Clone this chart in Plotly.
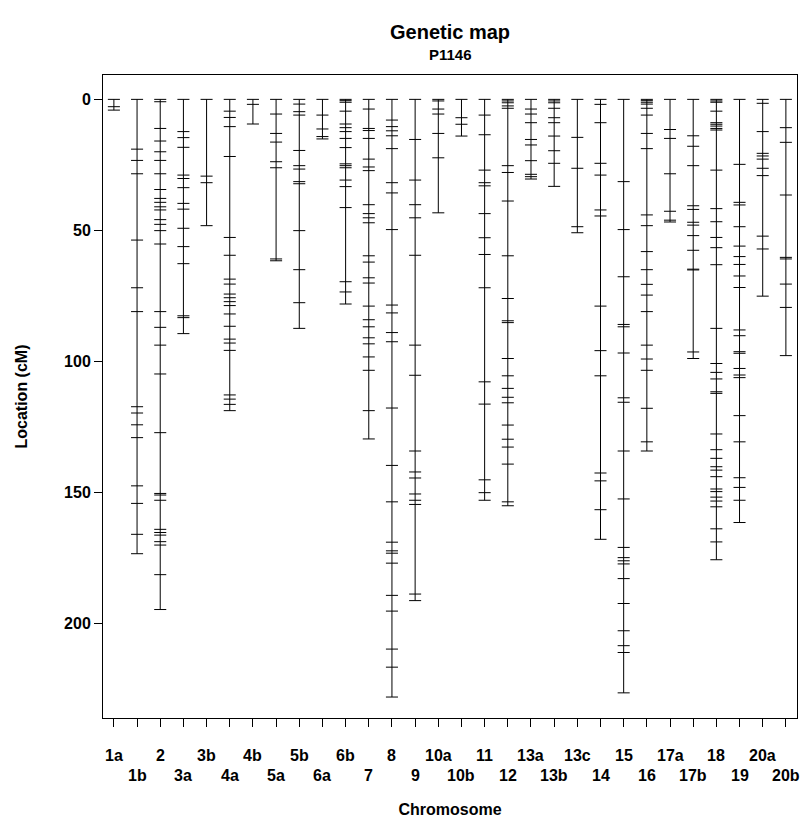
import plotly.graph_objects as go

chromosomes = ["1a","1b","2","3a","3b","4a","4b","5a","5b","6a","6b","7","8","9","10a","10b",
               "11","12","13a","13b","13c","14","15","16","17a","17b","18","19","20a","20b"]

markers = {
    "1a": [0, 2.8, 4.1],
    "1b": [0, 19.0, 23.3, 28.4, 53.7, 71.9, 81.0, 117.3, 119.7, 124.2, 129.1, 147.5, 154.2, 166.0, 173.4],
    "2": [0, 0.9, 11.1, 15.9, 20.0, 23.3, 28.4, 34.4, 37.8, 39.3, 41.0, 42.2, 45.9, 47.7, 50.1, 55.2,
          81.0, 87.0, 93.8, 104.8, 127.2, 150.4, 151.0, 153.0, 164.1, 165.3, 166.3, 168.8, 170.1, 181.4, 194.7],
    "3a": [0, 12.3, 14.6, 18.3, 28.9, 30.2, 33.7, 39.7, 41.9, 49.2, 56.2, 62.7, 82.6, 83.3, 89.4],
    "3b": [0, 29.3, 31.8, 48.2],
    "4a": [0, 4.5, 6.9, 10.4, 21.8, 52.7, 59.5, 68.6, 70.5, 74.3, 75.7, 77.2, 78.7, 81.9, 86.6, 91.5,
           93.0, 95.8, 112.8, 114.4, 116.4, 118.8],
    "4b": [0, 1.9, 9.4],
    "5a": [0, 5.6, 13.0, 16.3, 23.8, 26.1, 60.9, 61.6],
    "5b": [0, 1.8, 4.7, 6.0, 19.5, 25.3, 26.6, 31.4, 32.2, 50.1, 65.0, 77.6, 87.4],
    "6a": [0, 6.0, 11.3, 14.2, 15.1],
    "6b": [0, 0.5, 1.1, 4.5, 9.4, 10.8, 12.3, 14.9, 18.4, 24.6, 25.3, 26.1, 30.8, 33.3, 41.3, 69.6, 73.5, 78.1],
    "7": [0, 3.7, 11.1, 11.9, 14.9, 22.8, 25.8, 27.2, 40.2, 43.6, 45.2, 47.1, 59.7, 62.1, 68.1, 70.1,
          78.9, 84.1, 86.8, 91.0, 93.3, 98.3, 103.4, 118.8, 129.6],
    "8": [0, 7.9, 10.4, 12.0, 13.9, 18.8, 31.8, 35.7, 49.7, 78.5, 81.5, 89.0, 92.5, 117.8, 139.7, 153.6,
          169.0, 172.3, 173.2, 177.0, 189.3, 195.3, 209.8, 216.7, 228.1],
    "9": [0, 15.3, 30.8, 40.2, 45.2, 59.5, 93.8, 105.3, 134.2, 142.2, 144.5, 150.6, 153.0, 154.6, 188.8, 191.3],
    "10a": [0, 0.6, 3.7, 5.6, 13.0, 22.3, 43.3],
    "10b": [0, 7.0, 9.5, 14.0],
    "11": [0, 6.0, 13.5, 27.0, 31.8, 33.0, 43.6, 52.8, 59.2, 71.9, 107.8, 116.3, 145.2, 150.1, 153.0],
    "12": [0, 0.6, 1.3, 2.5, 3.4, 25.3, 27.9, 38.8, 59.7, 76.0, 84.5, 85.2, 98.9, 105.5, 110.3, 113.7,
           115.8, 124.3, 129.7, 132.7, 139.2, 153.6, 155.1],
    "13a": [0, 3.7, 5.6, 8.9, 15.3, 17.4, 23.4, 28.6, 29.5, 30.4],
    "13b": [0, 0.6, 1.3, 3.4, 7.0, 8.9, 14.0, 19.6, 24.4, 33.2],
    "13c": [0, 14.5, 26.3, 48.6, 50.9],
    "14": [0, 1.9, 8.9, 24.4, 28.9, 42.2, 44.5, 78.9, 95.9, 105.5, 142.6, 145.6, 156.6, 167.9],
    "15": [0, 31.4, 49.7, 67.7, 85.9, 86.8, 96.8, 113.9, 115.6, 134.2, 152.5, 171.0, 174.9, 176.1, 177.3,
           182.9, 192.4, 202.8, 208.5, 211.1, 226.5],
    "16": [0, 0.5, 1.1, 1.8, 3.4, 6.0, 13.0, 18.8, 44.1, 48.2, 58.1, 65.0, 70.6, 74.7, 81.0, 93.8, 99.1,
           103.4, 117.9, 130.7, 134.2],
    "17a": [0, 11.5, 14.9, 28.4, 42.7, 46.1, 46.8],
    "17b": [0, 13.9, 17.9, 25.3, 40.6, 42.0, 46.9, 48.0, 52.0, 57.6, 64.8, 65.1, 96.4, 98.9],
    "18": [0, 0.6, 1.1, 4.5, 8.9, 9.5, 10.2, 11.1, 11.7, 27.0, 41.7, 46.7, 52.7, 56.6, 63.1, 87.4, 100.8,
           104.2, 106.7, 111.6, 112.2, 127.7, 133.7, 137.0, 140.2, 141.5, 144.0, 148.7, 149.7, 151.8,
           153.3, 155.5, 163.9, 168.9, 175.7],
    "19": [0, 24.8, 39.3, 40.3, 48.6, 56.0, 60.0, 63.0, 67.4, 71.8, 88.0, 90.2, 96.3, 96.9, 102.7, 105.2,
           106.2, 120.7, 130.7, 144.4, 148.1, 153.0, 161.5],
    "20a": [0, 1.5, 12.3, 20.6, 21.6, 22.8, 26.3, 29.1, 52.2, 57.1, 75.1],
    "20b": [0, 10.8, 16.4, 36.5, 60.3, 60.9, 70.5, 79.4, 97.8],
}

y_ticks = [0, 50, 100, 150, 200]

half = 0.26
xs, ys = [], []
for i, ch in enumerate(chromosomes):
    pos = markers[ch]
    xs += [i, i, None]
    ys += [min(pos), max(pos), None]
    for p in pos:
        xs += [i - half, i + half, None]
        ys += [p, p, None]

fig = go.Figure()
fig.add_trace(go.Scatter(x=xs, y=ys, mode="lines", line=dict(color="black", width=1),
                         hoverinfo="skip", showlegend=False))

FONT = "Liberation Sans, Arial, sans-serif"

for i, ch in enumerate(chromosomes):
    fig.add_annotation(x=i, xref="x", y=0, yref="paper", text=ch, showarrow=False,
                       yanchor="top", yshift=-27 if i % 2 == 0 else -47,
                       font=dict(family=FONT, size=16, color="black", weight="bold"))

fig.add_annotation(x=0.5, xref="paper", y=1, yref="paper", text="Genetic map", showarrow=False,
                   yanchor="middle", yshift=43,
                   font=dict(family=FONT, size=20, color="black", weight="bold"))
fig.add_annotation(x=0.5, xref="paper", y=1, yref="paper", text="P1146", showarrow=False,
                   yanchor="middle", yshift=21,
                   font=dict(family=FONT, size=15, color="black", weight="bold"))

fig.update_layout(
    width=808, height=823,
    margin=dict(l=103, r=11, t=75, b=105),
    paper_bgcolor="white", plot_bgcolor="white",
    xaxis=dict(range=[-0.47, 29.48], tickvals=list(range(len(chromosomes))), ticktext=[""] * len(chromosomes),
               ticks="outside", ticklen=8, tickcolor="black", tickwidth=1,
               showgrid=False, zeroline=False, showline=True, linecolor="black", linewidth=1, mirror=True,
               title=dict(text="<b>Chromosome</b>", font=dict(family=FONT, size=16, color="black"), standoff=75)),
    yaxis=dict(range=[236.1, -9.3], tickvals=y_ticks, ticks="outside", ticklen=8, tickcolor="black",
               showgrid=False, zeroline=False, showline=True, linecolor="black", linewidth=1, mirror=True,
               tickfont=dict(family=FONT, size=16, color="black", weight="bold"),
               title=dict(text="<b>Location (cM)</b>", font=dict(family=FONT, size=16, color="black"), standoff=32)),
)

fig.write_html("out.html")
